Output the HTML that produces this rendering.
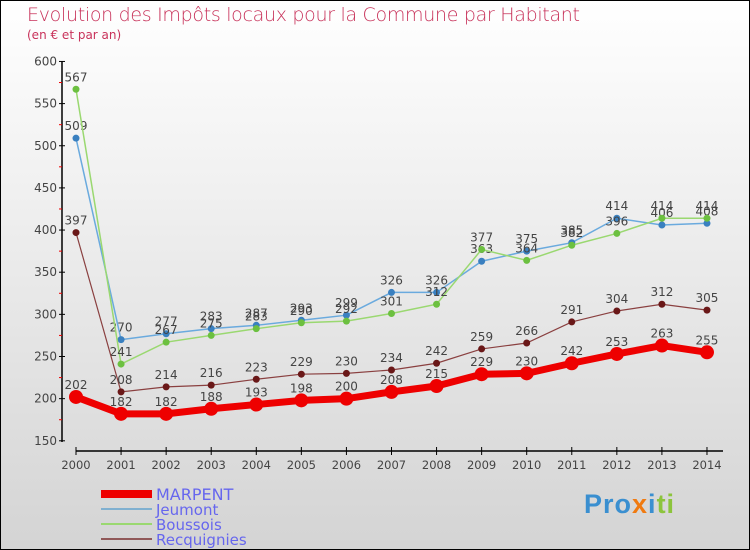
<!DOCTYPE html>
<html><head><meta charset="utf-8"><style>
body{margin:0}
#c{width:750px;height:550px;position:relative;box-sizing:border-box;border:1px solid #000;background:linear-gradient(#ffffff,#d4d4d4);font-family:"DejaVu Sans","Liberation Sans",sans-serif;overflow:hidden}
.t{position:absolute;color:#c8325a}
</style></head><body>
<div id="c">
<div class="t" style="left:26px;top:3px;font-size:19px;font-weight:200;letter-spacing:-0.3px">Evolution des Impôts locaux pour la Commune par Habitant</div>
<div class="t" style="left:26px;top:27px;font-size:12px">(en € et par an)</div>
<svg id="s" width="750" height="550" style="position:absolute;left:0;top:0"></svg>
<div style="position:absolute;left:583px;top:488px;font-size:27px;font-weight:bold;font-family:'Liberation Sans',sans-serif;letter-spacing:1px"><span style="color:#3a8fd0">Pro</span><span style="color:#f07a10">x</span><span style="color:#3a8fd0">i</span><span style="color:#8cc43c">ti</span></div>
</div>
<script>
const years=["2000","2001","2002","2003","2004","2005","2006","2007","2008","2009","2010","2011","2012","2013","2014"];
const marpent=[202,182,182,188,193,198,200,208,215,229,230,242,253,263,255];
const jeumont=[509,270,277,283,287,293,299,326,326,363,375,385,414,406,408];
const boussois=[567,241,267,275,283,290,292,301,312,377,364,382,396,414,414];
const recquignies=[397,208,214,216,223,229,230,234,242,259,266,291,304,312,305];
const yTicks=[150,200,250,300,350,400,450,500,550,600];
const svg=document.getElementById('s');const NS='http://www.w3.org/2000/svg';
function X(i){return 75+i*45.07;}
function Y(v){return 439.8-(v-150)*0.843;}
function el(t,a,p){const e=document.createElementNS(NS,t);for(const k in a)e.setAttribute(k,a[k]);(p||svg).appendChild(e);return e;}
let e=el('line',{x1:61,y1:60,x2:61,y2:441,stroke:'#000','stroke-width':1.5});

e=el('line',{x1:75,y1:450,x2:722,y2:450,stroke:'#000','stroke-width':1.5});

yTicks.forEach((v,i)=>{el('line',{x1:58,x2:64,y1:Y(v),y2:Y(v),stroke:'#000'});
 if(i<yTicks.length-1)el('line',{x1:58,x2:61,y1:Y(v+25),y2:Y(v+25),stroke:'#e00'});
 const t=el('text',{x:56,y:Y(v)+4,'text-anchor':'end','font-size':12,fill:'#444'});t.textContent=v;
 });
years.forEach((y,i)=>{el('line',{x1:X(i),x2:X(i),y1:446,y2:454,stroke:'#000'});
 const t=el('text',{x:X(i),y:468,'text-anchor':'middle','font-size':11.5,fill:'#444'});t.textContent=y;
 });
const series=[
 {n:'jeumont',d:jeumont,c:'#6aaade',p:'#3a80c0',w:1.5,r:3.5},
 {n:'boussois',d:boussois,c:'#9ad870',p:'#6cc040',w:1.5,r:3.5},
 {n:'recquignies',d:recquignies,c:'#8a4040',p:'#6a1818',w:1.2,r:3.5},
 {n:'marpent',d:marpent,c:'#ee0000',p:'#ee0000',w:7,r:7}];
series.forEach(s=>{
 const g=el('g',{});
 el('polyline',{points:s.d.map((v,i)=>X(i)+','+Y(v)).join(' '),fill:'none',stroke:s.c,'stroke-width':s.w},g);
 s.d.forEach((v,i)=>{const c=el('circle',{cx:X(i),cy:Y(v),r:s.r,fill:s.p},g);
  
  const t=el('text',{x:X(i),y:Y(v)-8,'text-anchor':'middle','font-size':12,fill:'#444'},g);t.textContent=v;
  });
});
const leg=[['MARPENT','#ee0000',8],['Jeumont','#80b0d0',2],['Boussois','#9ad870',2],['Recquignies','#905858',2]];
leg.forEach((l,i)=>{const y=493+i*15;
 const g=el('g',{});
 el('line',{x1:100,x2:151,y1:y,y2:y,stroke:l[1],'stroke-width':l[2]},g);
 const t=el('text',{x:155,y:y+6,'font-size':i==0?16:15,fill:'#6666ee'},g);t.textContent=l[0];});
</script>
</body></html>
